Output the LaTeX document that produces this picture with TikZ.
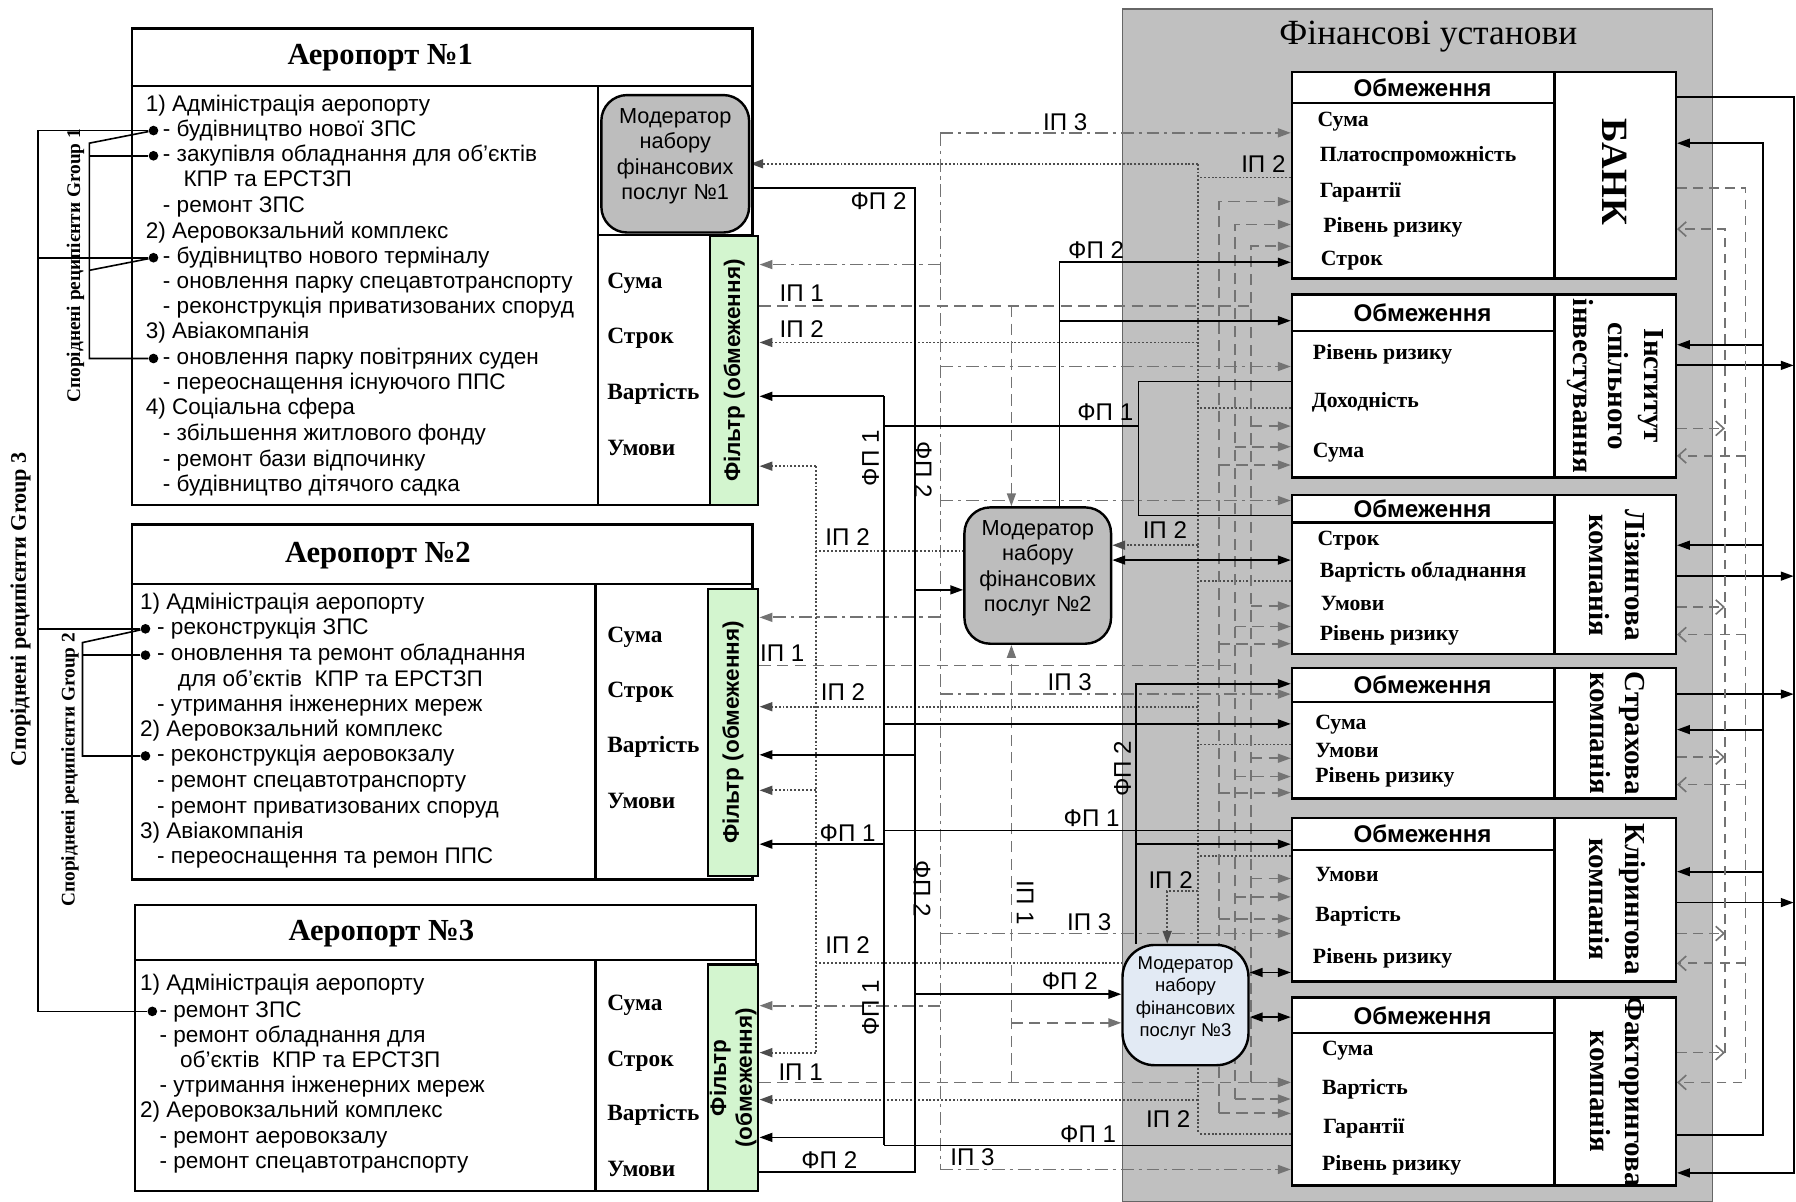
\documentclass[tikz,border=0pt]{standalone}
\usepackage{fontspec}
\setmainfont{Liberation Serif}
\setsansfont{Liberation Sans}
\usepackage{tikz}
\usetikzlibrary{arrows.meta,positioning,calc,fit,backgrounds}
\definecolor{filtgreen}{HTML}{D3F5CF}
\definecolor{modgray}{HTML}{BDBDBD}
\definecolor{modblue}{HTML}{E2EAF4}
\definecolor{fingray}{HTML}{C0C0C0}
\tikzset{
  boxline/.style={line width=1.5pt, draw=black},
  apbox/.style={draw=black, line width=1.5pt, fill=white, inner sep=0pt},
  finbox/.style={draw=black, line width=1.5pt, fill=white, inner sep=0pt},
  finarea/.style={draw=black!60, line width=1pt, fill=fingray, inner sep=0pt},
  filtbox/.style={draw=black, line width=1.5pt, fill=filtgreen, inner sep=0pt},
  modbox/.style={draw=black, line width=1.5pt, rounded corners=16pt, inner sep=0pt,
    align=center, font=\sffamily\fontsize{13.5}{15.8}\selectfont},
  aptitle/.style={font=\bfseries\fontsize{19}{22}\selectfont},
  listtxt/.style={anchor=west, inner sep=0pt, text height=10pt, text depth=3pt,
    font=\sffamily\fontsize{14}{15.6}\selectfont},
  critxt/.style={anchor=west, inner sep=0pt, text height=10pt, text depth=3pt,
    font=\bfseries\fontsize{14.5}{17}\selectfont},
  filttxt/.style={rotate=90, align=center, font=\sffamily\bfseries\fontsize{14}{16}\selectfont},
  fintitle/.style={font=\fontsize{22}{24}\selectfont},
  hdrtxt/.style={font=\sffamily\bfseries\fontsize{15}{17}\selectfont},
  fintxt/.style={anchor=west, inner sep=0pt, text height=9.5pt, text depth=3pt,
    font=\bfseries\fontsize{13.5}{16}\selectfont},
  sidetxt/.style={rotate=-90, align=center, font=\bfseries\fontsize{18}{22}\selectfont},
  grouptxt/.style={rotate=90, font=\bfseries\fontsize{12}{14}\selectfont},
  flowlbl/.style={inner sep=1pt, font=\sffamily\fontsize{15}{17}\selectfont},
  bullet/.style={circle, fill=black, inner sep=0pt, minimum size=6pt},
  grpline/.style={line width=1pt, draw=black},
  arr/.style={-{Triangle[length=8pt,width=5.5pt]}},
  darr/.style={{Triangle[length=8pt,width=5.5pt]}-{Triangle[length=8pt,width=5.5pt]}},
  barb/.style={-{Straight Barb[length=5pt,width=9pt]}},
  fpline/.style={line width=1.1pt, draw=black},
  ipone/.style={line width=1.1pt, draw=black!55, dash pattern=on 7pt off 4pt},
  iptwo/.style={line width=1.2pt, draw=black!70, dash pattern=on 1.2pt off 1.2pt},
  ipthree/.style={line width=1.1pt, draw=black!55, dash pattern=on 8pt off 3pt on 2pt off 3pt},
  rdash/.style={line width=1pt, draw=black!55, dash pattern=on 6pt off 4pt}
}

\begin{document}
\begin{tikzpicture}[x=0.025cm, y=-0.025cm]
\useasboundingbox (0,0) rectangle (1568,1049);

% financial institutions
\begin{scope}[on background layer]
  \node[finarea, fit={(980,8)(1495,1049)}] (fin) {};
\end{scope}
\node[fintitle] (fintitle) at (1247,32) {Фінансові установи};

% airports
\node[apbox, fit={(115,25)(657,441)}] (apone) {};
\node[apbox, fit={(115,458)(657,768)}] (aptwo) {};
\node[apbox, fit={(118,790)(660,1040)}] (apthree) {};
\draw[boxline] (apone.west |- 0,75) -- (apone.east |- 0,75);
\draw[boxline] (522,75) -- (apone.south -| 522,0);
\draw[boxline] (522,205) -- (apone.east |- 0,205);
\draw[boxline] (aptwo.west |- 0,510) -- (aptwo.east |- 0,510);
\draw[boxline] (520,510) -- (aptwo.south -| 520,0);
\draw[boxline] (apthree.west |- 0,838) -- (apthree.east |- 0,838);
\draw[boxline] (520,838) -- (apthree.south -| 520,0);

\node[aptitle] (aponetitle) at (332,50) {Аеропорт №1};
\node[aptitle] (aptwotitle) at (330,485) {Аеропорт №2};
\node[aptitle] (apthreetitle) at (333,815) {Аеропорт №3};

\node[modbox, fill=modgray, fit={(525,83)(654,203)}] (modone) {Модератор\\набору\\фінансових\\послуг №1};
\node[modbox, fill=modgray, fit={(842,443)(970,562)}] (modtwo) {Модератор\\набору\\фінансових\\послуг №2};
\node[modbox, fill=modblue, rounded corners=20pt, fit={(980,825)(1090,930)},
  font=\sffamily\fontsize{11.5}{14}\selectfont] (modthree) {Модератор\\набору\\фінансових\\послуг №3};

\node[filtbox, fit={(620,206)(662,441)}] (filtone) {};
\node[filtbox, fit={(618,514)(662,765)}] (filttwo) {};
\node[filtbox, fit={(618,842)(662,1040)}] (filtthree) {};
\node[filttxt] (filtonelbl) at (filtone.center) {Фільтр (обмеження)};
\node[filttxt] (filttwolbl) at (filttwo.center) {Фільтр (обмеження)};
\node[filttxt] (filtthreelbl) at (filtthree.center) {Фільтр\\(обмеження)};

% airport lists
\foreach \x/\y/\t [count=\i] in {127/92/{1) Адміністрація аеропорту}, 142/114/{- будівництво нової ЗПС},
    142/136/{- закупівля обладнання для об’єктів}, 160/158/{КПР та ЕРСТЗП}, 142/181/{- ремонт ЗПС},
    127/203/{2) Аеровокзальний комплекс}, 142/225/{- будівництво нового терміналу},
    142/247/{- оновлення парку спецавтотранспорту}, 142/269/{- реконструкція приватизованих споруд},
    127/291/{3) Авіакомпанія}, 142/313/{- оновлення парку повітряних суден},
    142/335/{- переоснащення існуючого ППС}, 127/357/{4) Соціальна сфера},
    142/380/{- збільшення житлового фонду}, 142/402/{- ремонт бази відпочинку},
    142/424/{- будівництво дітячого садка}}
  \node[listtxt] (aone\i) at (\x,\y) {\t};
\foreach \x/\y/\t [count=\i] in {122/527/{1) Адміністрація аеропорту}, 137/549/{- реконструкція ЗПС},
    137/572/{- оновлення та ремонт обладнання}, 155/594/{для об’єктів\ \ КПР та ЕРСТЗП},
    137/616/{- утримання інженерних мереж}, 122/638/{2) Аеровокзальний комплекс},
    137/660/{- реконструкція аеровокзалу}, 137/683/{- ремонт спецавтотранспорту},
    137/705/{- ремонт приватизованих споруд}, 122/727/{3) Авіакомпанія},
    137/749/{- переоснащення та ремон ППС}}
  \node[listtxt] (atwo\i) at (\x,\y) {\t};
\foreach \x/\y/\t [count=\i] in {122/860/{1) Адміністрація аеропорту}, 139/883/{- ремонт ЗПС},
    139/905/{- ремонт обладнання для}, 157/927/{об’єктів\ \ КПР та ЕРСТЗП},
    139/949/{- утримання інженерних мереж}, 122/971/{2) Аеровокзальний комплекс},
    139/993/{- ремонт аеровокзалу}, 139/1015/{- ремонт спецавтотранспорту}}
  \node[listtxt] (athree\i) at (\x,\y) {\t};

% criteria at the filters
\foreach \y/\t [count=\i] in {247/Сума, 295/Строк, 344/Вартість, 393/Умови,
    556/Сума, 604/Строк, 652/Вартість, 701/Умови,
    877/Сума, 926/Строк, 973/Вартість, 1022/Умови}
  \node[critxt] (crit\i) at (530,\y) {\t};

% related recipients
\node[bullet] (bAa) at (134,114) {};
\node[bullet] (bAb) at (134,136) {};
\node[bullet] (bAc) at (134,225) {};
\node[bullet] (bAd) at (134,313) {};
\node[bullet] (bBa) at (127,549) {};
\node[bullet] (bBb) at (127,572) {};
\node[bullet] (bBc) at (127,660) {};
\node[bullet] (bCa) at (133,883) {};
\coordinate (gthreeT) at (33,114);
\coordinate (gthreeB) at (33,883);
\coordinate (goneT) at (78,125);
\coordinate (goneB) at (78,313);
\coordinate (gtwoT) at (72,561);
\coordinate (gtwoB) at (72,660);
\draw[grpline] (bAa) -- (gthreeT) -- (gthreeB) -- (bCa);
\draw[grpline] (gthreeT |- bAc) -- (bAc);
\draw[grpline] (gthreeT |- bBa) -- (bBa);
\draw[grpline] (bAa) -- (goneT) -- (goneB) -- (bAd);
\draw[grpline] (goneT |- bAb) -- (bAb);
\draw[grpline] (bAc) -- (78,236);
\draw[grpline] (bBa) -- (gtwoT) -- (gtwoB) -- (bBc);
\draw[grpline] (gtwoT |- bBb) -- (bBb);
\node[grouptxt, font=\bfseries\fontsize{13.8}{15}\selectfont] (gthreelbl) at (18,532) {Споріднені реципієнти Group 3};
\node[grouptxt] (gonelbl) at (66,232) {Споріднені реципієнти Group 1};
\node[grouptxt] (gtwolbl) at (61,672) {Споріднені реципієнти Group 2};

% financial institution boxes
\foreach \n/\ya/\yb/\yh in {bank/63/243/90, isi/257/417/289, lease/432/571/456,
    insur/583/697/613, clear/714/857/742, factor/871/1035/902} {
  \node[finbox, fit={(1128,\ya)(1463,\yb)}] (\n) {};
  \draw[boxline] (1357,\ya) -- (1357,\yb);
  \draw[boxline] (1128,\yh) -- (1357,\yh);
  \node[hdrtxt] (\n-hdr) at (1242,{(\ya+\yh)/2}) {Обмеження};
}
\foreach \x/\y/\t [count=\i] in {1150/106/Сума, 1152/136/Платоспроможність, 1152/168/Гарантії,
    1155/198/Рівень ризику, 1153/227/Строк,
    1146/309/Рівень ризику, 1145/351/Доходність, 1146/395/Сума,
    1150/472/Строк, 1152/500/Вартість обладнання, 1153/528/Умови, 1152/555/Рівень ризику,
    1148/632/Сума, 1148/657/Умови, 1148/679/Рівень ризику,
    1148/765/Умови, 1148/800/Вартість, 1146/837/Рівень ризику,
    1154/917/Сума, 1154/951/Вартість, 1155/985/Гарантії, 1154/1017/Рівень ризику}
  \node[fintxt] (fitem\i) at (\x,\y) {\t};
\node[sidetxt, font=\bfseries\fontsize{23}{26}\selectfont] (banklbl) at (1410,150) {БАНК};
\node[sidetxt] (isilbl) at (1410,337) {Інститут\\спільного\\інвестування};
\node[sidetxt] (leaselbl) at (1412,502) {Лізингова\\компанія};
\node[sidetxt] (insurlbl) at (1412,640) {Страхова\\компанія};
\node[sidetxt] (clearlbl) at (1412,785) {Клірингова\\компанія};
\node[sidetxt] (factorlbl) at (1412,953) {Факторингова\\компанія};

% buses
\coordinate (ipthreeT) at (821,116);
\coordinate (ipthreeB) at (821,1021);
\coordinate (iptworT) at (1046,143);
\coordinate (iptworB) at (1046,990);
\coordinate (iptwolT) at (712,407);
\coordinate (iptwolB) at (712,919);
\coordinate (fponeT) at (772,346);
\coordinate (fponeB) at (772,1000);
\coordinate (fponeJ) at (994,372);
\coordinate (fptwoT) at (799,164);
\coordinate (fptwoB) at (799,1023);
\coordinate (ipjA) at (883,267);
\coordinate (ipjB) at (883,945);
\coordinate (mtwoup) at (925,229);
\coordinate (mthreeup) at (992,597);

\begin{scope}[on background layer]
% ІП 3
\draw[ipthree] (ipthreeT) -- (ipthreeB);
\foreach \y/\n in {231/filtone, 539/filttwo, 878/filtthree}
  \draw[ipthree, arr] (ipthreeT |- 0,\y) -- (\n.east |- 0,\y);
\foreach \y/\n in {116/bank, 320/isi, 437/lease, 606/insur, 815/clear, 1021/factor}
  \draw[ipthree, arr] (ipthreeT |- 0,\y) -- (\n.west |- 0,\y);

% ІП 2
\draw[iptwo] (iptworT) -- (iptworB);
\draw[iptwo] (iptwolT) -- (iptwolB);
\foreach \y/\n in {143/modone, 299/filtone, 476/modtwo, 617/filttwo, 960/filtthree}
  \draw[iptwo, arr] (iptworT |- 0,\y) -- (\n.east |- 0,\y);
\foreach \y/\n in {155/bank, 356/isi, 507/lease, 650/insur, 747/clear, 990/factor}
  \draw[iptwo] (\n.west |- 0,\y) -- (iptworT |- 0,\y);
\draw[iptwo, arr] (iptworT |- 0,778) -| (modthree.north -| 1019,0);
\foreach \y/\n in {407/filtone, 690/filttwo, 919/filtthree}
  \draw[iptwo, arr] (iptwolT |- 0,\y) -- (\n.east |- 0,\y);
\foreach \y/\n in {481/modtwo, 841/modthree}
  \draw[iptwo] (iptwolT |- 0,\y) -- (\n.west |- 0,\y);

% ІП 1
\draw[ipone] (filtone.east |- ipjA) -- (1092,267);
\draw[ipone, arr] (ipjA) -- (modtwo.north -| ipjA);
\draw[ipone] (filttwo.east |- 0,581) -- (1078,581);
\draw[ipone, arr] (filtthree.east |- ipjB) -- (factor.west |- ipjB);
\draw[ipone, arr] (ipjB) -- (modtwo.south -| ipjB);
\draw[ipone, arr] (ipjB |- 0,893) -- (modthree.west |- 0,893);
\foreach \bx/\ya/\yb/\yi/\yl/\yn/\yc in {1092/215/945/372/529/662/767,
    1078/196/959.5/390/547/678/783, 1064/176/972/406/562/692/802} {
  \draw[ipone, arr] (\bx,\yb) -- (\bx,\ya) -- (bank.west |- 0,\ya);
  \draw[ipone, arr] (\bx,\yb) -- (factor.west |- 0,\yb);
  \draw[ipone, arr] (\bx,\yi) -- (isi.west |- 0,\yi);
  \draw[ipone, arr] (\bx,\yl) -- (lease.west |- 0,\yl);
  \draw[ipone, arr] (\bx,\yn) -- (insur.west |- 0,\yn);
  \draw[ipone, arr] (\bx,\yc) -- (clear.west |- 0,\yc);
}

% ФП 1
\draw[fpline] (fponeT) -- (fponeB);
\foreach \y/\n in {346/filtone, 737/filttwo, 993/filtthree}
  \draw[fpline, arr] (fponeT |- 0,\y) -- (\n.east |- 0,\y);
\draw[fpline, arr] (fponeT |- 0,632) -- (insur.west |- 0,632);
\draw[fpline] (clear.west |- 0,725) -- (fponeT |- 0,725);
\draw[fpline] (factor.west |- fponeB) -- (fponeB);
\draw[fpline] (isi.west |- 0,333) -| (fponeJ);
\draw[fpline] (lease.west |- 0,450) -| (fponeJ);
\draw[fpline] (fponeJ) -- (fponeT |- fponeJ);

% ФП 2
\draw[fpline] (modone.east |- fptwoT) -- (fptwoT) -- (fptwoB) -- (filtthree.east |- fptwoB);
\draw[fpline, arr] (fptwoT |- 0,659) -- (filttwo.east |- 0,659);
\draw[fpline, arr] (fptwoT |- 0,515) -- (modtwo.west |- 0,515);
\draw[fpline, arr] (fptwoT |- 0,868) -- (modthree.west |- 0,868);
\draw[fpline, arr] (modtwo.north -| mtwoup) -- (mtwoup) -- (bank.west |- mtwoup);
\draw[fpline, arr] (mtwoup |- 0,280) -- (isi.west |- 0,280);
\draw[fpline, arr] (modthree.north -| mthreeup) -- (mthreeup) -- (insur.west |- mthreeup);
\draw[fpline, arr] (mthreeup |- 0,737) -- (clear.west |- 0,737);
\draw[fpline, darr] (modtwo.east |- 0,489) -- (lease.west |- 0,489);
\draw[fpline, darr] (modthree.east |- 0,849) -- (clear.west |- 0,849);
\draw[fpline, darr] (modthree.east |- 0,888) -- (factor.west |- 0,888);

% right side links
\coordinate (rtA) at (1566,85);
\coordinate (rtB) at (1539,125);
\coordinate (dOne) at (1524,164);
\coordinate (dTwo) at (1506,200);
\draw[fpline, arr] (bank.east |- rtA) -- (rtA) -- (rtA |- 0,1024) -- (factor.east |- 0,1024);
\foreach \y/\n in {319/isi, 503/lease, 606/insur, 788/clear}
  \draw[fpline, arr] (\n.east |- 0,\y) -- (rtA |- 0,\y);
\draw[fpline, arr] (factor.east |- 0,991) -- (rtB |- 0,991) -- (rtB) -- (bank.east |- rtB);
\foreach \y/\n in {301/isi, 476/lease, 637/insur, 761/clear}
  \draw[fpline, arr] (rtB |- 0,\y) -- (\n.east |- 0,\y);
\draw[rdash, barb] (bank.east |- dOne) -- (dOne) -- (dOne |- 0,945) -- (factor.east |- 0,945);
\foreach \y/\n in {398/isi, 554/lease, 685/insur, 841/clear}
  \draw[rdash, barb] (dOne |- 0,\y) -- (\n.east |- 0,\y);
\draw[rdash, barb] (dTwo |- 0,919) -- (dTwo) -- (bank.east |- dTwo);
\foreach \y/\n in {374/isi, 530/lease, 661/insur, 815/clear, 919/factor}
  \draw[rdash, barb] (\n.east |- 0,\y) -- (dTwo |- 0,\y);
\end{scope}

% flow labels
\foreach \x/\y/\t/\r [count=\i] in {930/107/ІП 3/0, 1103/143/ІП 2/0, 767/176/ФП 2/0,
    957/218/ФП 2/0, 700/256/ІП 1/0, 700/287/ІП 2/0, 965/360/ФП 1/0, 760/400/ФП 1/90,
    806/410/ФП 2/-90, 740/469/ІП 2/0, 1017/463/ІП 2/0, 683/570/ІП 1/0, 736/604/ІП 2/0,
    934/596/ІП 3/0, 980/671/ФП 2/90, 740/727/ФП 1/0, 953/714/ФП 1/0, 805/776/ФП 2/-90,
    895/788/ІП 1/-90, 1022/768/ІП 2/0, 951/805/ІП 3/0, 740/825/ІП 2/0, 934/857/ФП 2/0,
    760/880/ФП 1/90, 699/936/ІП 1/0, 1020/977/ІП 2/0, 950/990/ФП 1/0, 724/1013/ФП 2/0,
    849/1010/ІП 3/0}
  \node[flowlbl, rotate=\r] (flbl\i) at (\x,\y) {\t};
\end{tikzpicture}
\end{document}
